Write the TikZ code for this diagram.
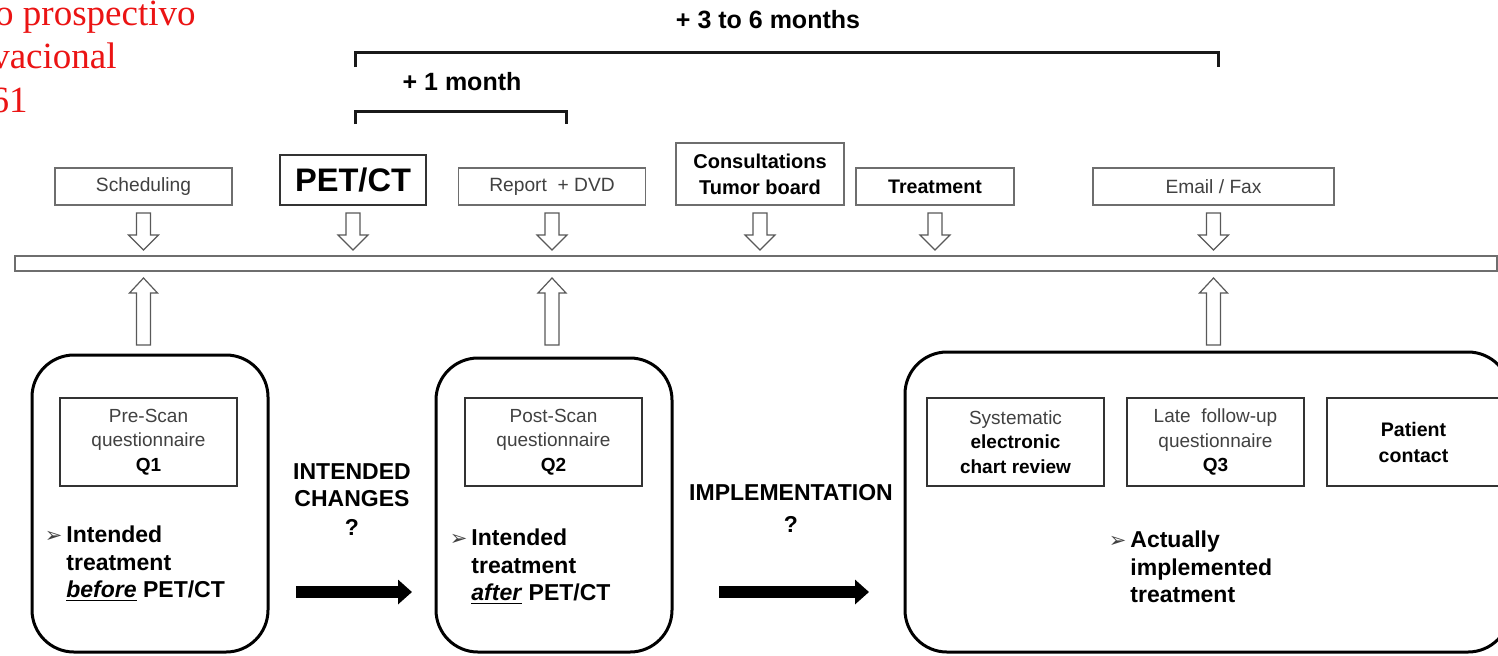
\documentclass[tikz,border=0pt]{standalone}
\usepackage{fontspec}
\setmainfont{Liberation Sans}
\newfontfamily\noteserif{Liberation Serif}
\newfontfamily\bulletfont{DejaVu Sans}
\usepackage{xcolor}
\usetikzlibrary{arrows.meta, positioning, shapes}
\definecolor{txtgray}{RGB}{65,65,65}
\definecolor{linegray}{RGB}{110,110,110}
\definecolor{notered}{RGB}{235,20,20}
\newcommand{\bul}{\llap{\bulletfont\fontsize{10.5}{10}\selectfont\color{txtgray}➢\hspace{2pt}}}
\newcommand{\dk}[1]{\textcolor{black}{\textbf{#1}}}
\tikzstyle{note} = [anchor=base east, inner sep=0pt, text=notered, font=\noteserif\fontsize{18.5}{21}\selectfont]
\tikzstyle{monthlbl} = [inner sep=0pt, font=\bfseries\fontsize{12.5}{14}\selectfont]
\tikzstyle{bracket} = [line width=1.5pt, draw=black!90]
\tikzstyle{topbox} = [rectangle, draw=linegray, line width=0.75pt, minimum height=18.5pt, inner sep=0pt, align=center, text=txtgray, font=\fontsize{9.6}{13}\selectfont]
\tikzstyle{timeline} = [rectangle, draw=linegray, line width=1pt, inner sep=0pt]
\tikzstyle{hollow} = [draw=black!65, line width=0.6pt, fill=white]
\tikzstyle{bigbox} = [rectangle, rounded corners=21pt, draw=black, line width=1.5pt]
\tikzstyle{qbox} = [rectangle, draw=black!80, line width=1pt, minimum width=88.5pt, minimum height=44pt, inner sep=0pt, align=center, text=txtgray, font=\fontsize{9.5}{12.25}\selectfont]
\tikzstyle{bultxt} = [anchor=west, align=left, inner sep=0pt, font=\bfseries\fontsize{11.5}{13.75}\selectfont]
\tikzstyle{chglbl} = [align=center, inner sep=0pt, font=\bfseries\fontsize{11.5}{13.5}\selectfont]
\tikzstyle{bigarr} = [line width=6pt, -{Triangle[length=7pt,width=12pt]}]

\begin{document}
\begin{tikzpicture}[x=0.5pt,y=-0.5pt]
      \useasboundingbox (0,0) rectangle (1498,655);
      \fill [white] (0,0) rectangle (1498,655);
      \clip (0,0) rectangle (1498,655);

      \node (r1) [note] at (196,25) {o prospectivo};
      \node (r2) [note] at (117,68) {vacional};
      \node (r3) [note] at (28,112) {61};

      \node (m1) [monthlbl] at (768,20) {+ 3 to 6 months};
      \node (m2) [monthlbl] at (462,82) {+ 1 month};
      \draw [bracket] (355,67) -- (355,52) -- (1218,52) -- (1218,67);
      \draw [bracket] (355,124) -- (355,111) -- (566,111) -- (566,124);

      \node (t1) [topbox, minimum width=88.5pt] at (143.5,186.5) {Scheduling};
      \node (t2) [topbox, draw=black!80, line width=1pt, minimum width=73pt, minimum height=25pt, text=black, font=\bfseries\fontsize{16.3}{18}\selectfont] at (353,180) {PET/CT};
      \node (t3) [topbox, minimum width=93.5pt] at (552,186.5) {Report \ + DVD};
      \node (t4) [topbox, minimum width=84pt, minimum height=31pt, text=black, font=\bfseries\fontsize{10}{13}\selectfont] at (760,174) {Consultations\\Tumor board};
      \node (t5) [topbox, minimum width=79pt, text=black, font=\bfseries\fontsize{9.8}{13}\selectfont] at (935,186.5) {Treatment};
      \node (t6) [topbox, minimum width=120.5pt] at (1213.5,186.5) {Email / Fax};

      \node (tl) [timeline, minimum width=741pt, minimum height=7.5pt] at (756,263.5) {};

      \foreach \n in {t1,t2,t3,t4,t5,t6}
        \draw [hollow] (\n.south |- 0,213) ++(-7,0) -- ++(14,0) -- ++(0,22) -- ++(8,0) -- ++(-15,15) -- ++(-15,-15) -- ++(8,0) -- cycle;
      \foreach \n in {t1,t3,t6}
        \draw [hollow] (\n.south |- 0,278) -- ++(14,15) -- ++(-7,0) -- ++(0,52) -- ++(-14,0) -- ++(0,-52) -- ++(-7,0) -- cycle;

      \node (b1) [bigbox, minimum width=118pt, minimum height=148.5pt] at (150,503.5) {};
      \node (b2) [bigbox, minimum width=118pt, minimum height=147pt] at (554,505) {};
      \node (b3) [bigbox, minimum width=302.5pt, minimum height=150pt] at (1207.5,502) {};

      \node (q1) [qbox] at (148.5,442) {Pre-Scan\\questionnaire\\\dk{Q1}};
      \node (q2) [qbox] at (553.5,442) {Post-Scan\\questionnaire\\\dk{Q2}};
      \node (q3) [qbox] at (1015.5,442) {Systematic\\\dk{electronic}\\\dk{chart review}};
      \node (q4) [qbox, right=10.5pt of q3] {Late \ follow-up\\questionnaire\\\dk{Q3}};
      \node (q5) [qbox, right=10.5pt of q4, minimum width=86.5pt, text=black, font=\bfseries\fontsize{9.8}{13}\selectfont] {Patient\\contact};

      \node (u1) [bultxt] at (66,564) {\bul Intended\\treatment\\\underline{\textit{before}} PET/CT};
      \node (u2) [bultxt] at (471,567) {\bul Intended\\treatment\\\underline{\textit{after}} PET/CT};
      \node (u3) [bultxt] at (1130,567) {\bul Actually\\implemented\\treatment};

      \node (c1) [chglbl] at (352,500) {INTENDED\\CHANGES\\[1pt]?};
      \node (c2) [chglbl] at (791,508) {IMPLEMENTATION\\[2.5pt]?};

      \coordinate (e1) at (296,592);
      \coordinate (e2) at (412,592);
      \coordinate (e3) at (719,592);
      \coordinate (e4) at (869,592);
      \draw [bigarr] (e1) -- (e2);
      \draw [bigarr] (e3) -- (e4);
    \end{tikzpicture}
\end{document}
